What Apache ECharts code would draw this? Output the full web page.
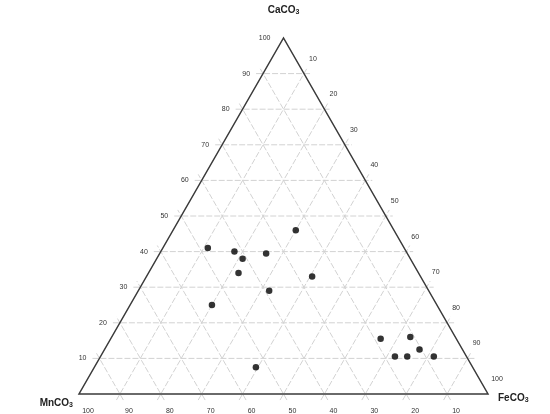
<!DOCTYPE html>
<html>
<head>
<meta charset="utf-8">
<script src="https://cdn.jsdelivr.net/npm/echarts@6/dist/echarts.min.js"></script>
<style>
html, body { margin: 0; padding: 0; background: #fff; }
#main { width: 550px; height: 414px; }
</style>
</head>
<body>
<div id="main"></div>
<script>
// sample compositions, percent
var caco3 = [46, 41, 40, 38, 39.5, 34, 33, 29, 25, 7.5, 15.5, 16, 12.5, 10.5, 10.5, 10.5];
var feco3 = [30, 11, 18, 21, 26, 22, 40.5, 32, 20, 39.5, 66, 73, 77, 72, 75, 81.5];
var mnco3 = [24, 48, 42, 41, 34.5, 44, 26.5, 39, 55, 53, 18.5, 11, 10.5, 17.5, 14.5, 8];

var gridSteps = [10, 20, 30, 40, 50, 60, 70, 80, 90];
var tickLabels = [10, 20, 30, 40, 50, 60, 70, 80, 90, 100];

// ternary -> plane (x: 0..100 along base, y: CaCO3)
function toXY(ca, fe, mn) {
    var s = ca + fe + mn;
    ca = ca * 100 / s; fe = fe * 100 / s;
    return [fe + ca / 2, ca];
}

var points = [];
for (var i = 0; i < caco3.length; i++) {
    points.push(toXY(caco3[i], feco3[i], mnco3[i]));
}

var labelFont = { fontSize: 7, fontFamily: 'Liberation Sans', fill: '#333' };

function extend(p1, p2, e) {
    var dx = p2[0] - p1[0], dy = p2[1] - p1[1];
    var len = Math.sqrt(dx * dx + dy * dy);
    dx /= len; dy /= len;
    return [[p1[0] - dx * e, p1[1] - dy * e], [p2[0] + dx * e, p2[1] + dy * e]];
}

function renderFrame(params, api) {
    var children = [];
    var gridStyle = { stroke: '#d2d2d2', lineWidth: 1, lineDash: [6, 2] };
    gridSteps.forEach(function (k) {
        var segs = [
            [[k / 2, k], [100 - k / 2, k]],             // CaCO3 = k
            [[k, 0], [k + (100 - k) / 2, 100 - k]],     // FeCO3 = k
            [[100 - k, 0], [(100 - k) / 2, 100 - k]]    // MnCO3 = k
        ];
        segs.forEach(function (s) {
            var e = extend(api.coord(s[0]), api.coord(s[1]), 7);
            children.push({
                type: 'line',
                shape: { x1: e[0][0], y1: e[0][1], x2: e[1][0], y2: e[1][1] },
                style: gridStyle
            });
        });
    });
    // triangle outline
    var a = api.coord([0, 0]), b = api.coord([100, 0]), c = api.coord([50, 100]);
    children.push({
        type: 'polygon',
        shape: { points: [a, b, c] },
        style: { fill: null, stroke: '#3a3a3a', lineWidth: 1.5 }
    });
    // tick labels
    tickLabels.forEach(function (k) {
        var pl = api.coord([k / 2, k]);
        children.push({
            type: 'text', x: pl[0] - 13, y: pl[1],
            style: Object.assign({ text: String(k), align: 'right', verticalAlign: 'middle' }, labelFont)
        });
        var pr = api.coord([k + (100 - k) / 2, 100 - k]);
        children.push({
            type: 'text', x: pr[0] + 9, y: pr[1] - 15,
            style: Object.assign({ text: String(k), align: 'center', verticalAlign: 'middle' }, labelFont)
        });
        var pb = api.coord([100 - k, 0]);
        children.push({
            type: 'text', x: pb[0] + 9, y: pb[1] + 17,
            style: Object.assign({ text: String(k), align: 'center', verticalAlign: 'middle' }, labelFont)
        });
    });
    // corner titles
    var rich = {
        m: { fontSize: 10, fontWeight: 'bold', fontFamily: 'Liberation Sans', fill: '#222' },
        s: { fontSize: 7, fontWeight: 'bold', fontFamily: 'Liberation Sans', fill: '#222', padding: [4, 0, 0, 0] }
    };
    children.push({
        type: 'text', x: c[0], y: c[1] - 28,
        style: { text: '{m|CaCO}{s|3}', rich: rich, align: 'center', verticalAlign: 'middle' }
    });
    children.push({
        type: 'text', x: a[0] - 6, y: a[1] + 9,
        style: { text: '{m|MnCO}{s|3}', rich: rich, align: 'right', verticalAlign: 'middle' }
    });
    children.push({
        type: 'text', x: b[0] + 10, y: b[1] + 4,
        style: { text: '{m|FeCO}{s|3}', rich: rich, align: 'left', verticalAlign: 'middle' }
    });
    return { type: 'group', children: children };
}

var myChart = echarts.init(document.getElementById('main'));
myChart.setOption({
    animation: false,
    grid: { left: 79, right: 62, top: 38, bottom: 20 },
    xAxis: { type: 'value', min: 0, max: 100, show: false },
    yAxis: { type: 'value', min: 0, max: 100, show: false },
    series: [
        {
            type: 'custom',
            renderItem: renderFrame,
            data: [[0, 0]],
            clip: false,
            silent: true,
            z: 1
        },
        {
            type: 'scatter',
            data: points,
            symbol: 'circle',
            symbolSize: 6.5,
            itemStyle: { color: '#000' },
            z: 5
        }
    ]
});
</script>
</body>
</html>
